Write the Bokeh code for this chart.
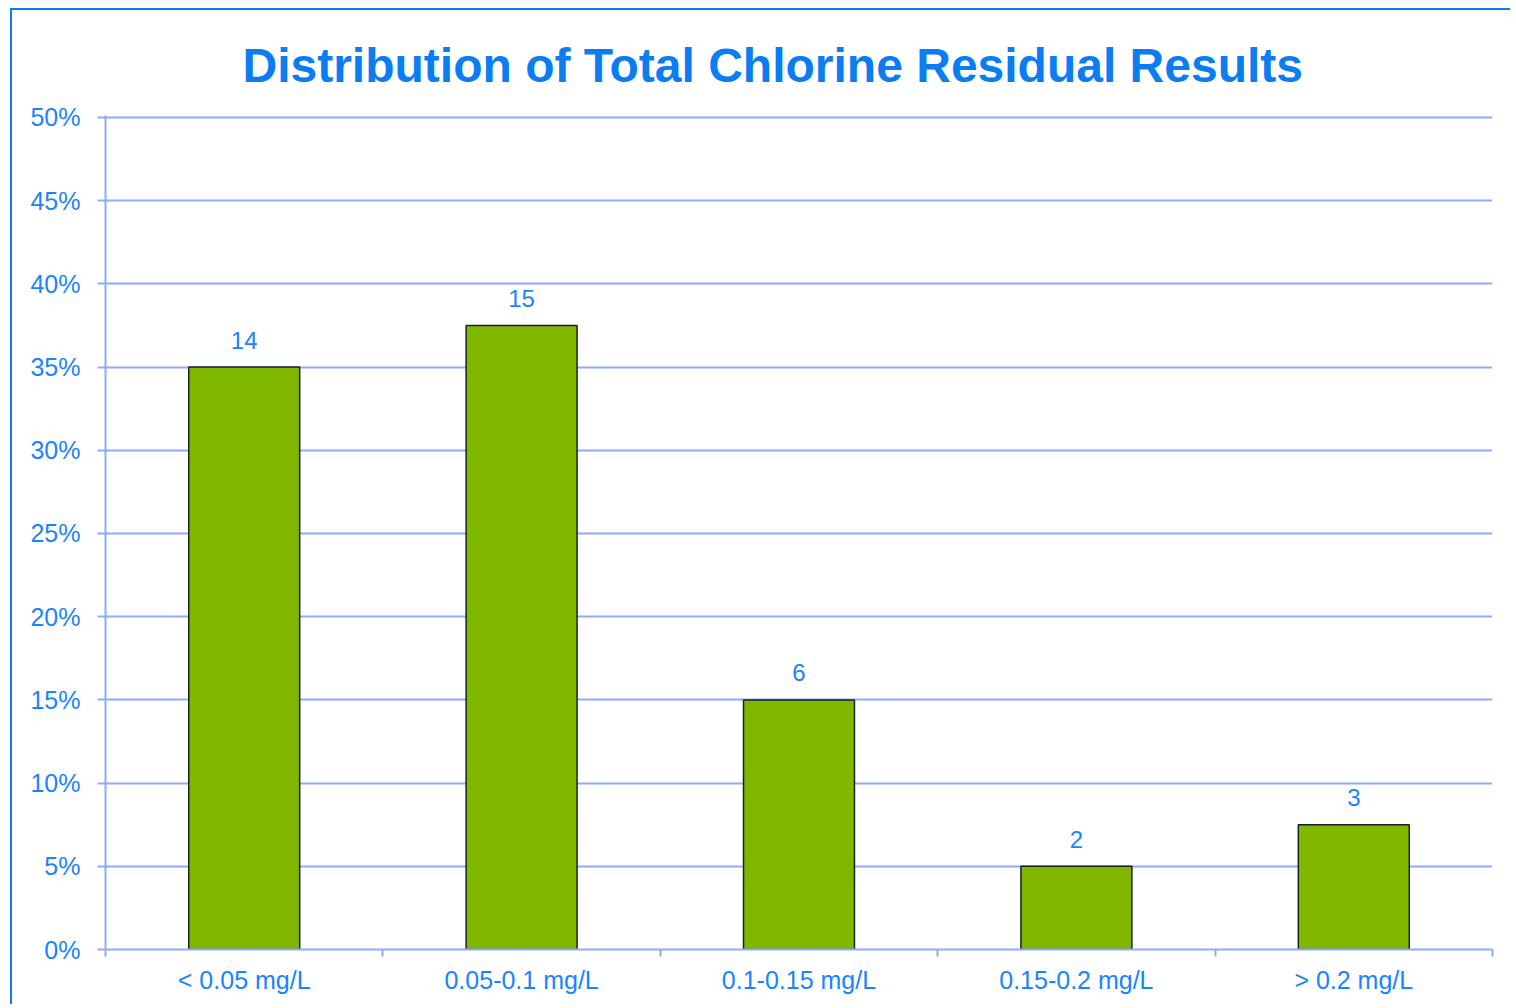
from bokeh.plotting import figure
from bokeh.models import FixedTicker, NumeralTickFormatter, Range1d, ColumnDataSource
from bokeh.core.properties import value
from bokeh.embed import file_html
from bokeh.resources import INLINE

title_text = "Distribution of Total Chlorine Residual Results"
categories = ["< 0.05 mg/L", "0.05-0.1 mg/L", "0.1-0.15 mg/L", "0.15-0.2 mg/L", "> 0.2 mg/L"]
counts = [14, 15, 6, 2, 3]
percents = [0.35, 0.375, 0.15, 0.05, 0.075]
y_ticks = [0.0, 0.05, 0.10, 0.15, 0.20, 0.25, 0.30, 0.35, 0.40, 0.45, 0.50]

TEXT = "#1A84FF"
TITLE = "#0A7DF2"
GRID = "#8FAAFF"
FONT = "Liberation Sans"

xs = [i + 0.5 for i in range(len(categories))]
src = ColumnDataSource(dict(x=xs, top=percents, lab=[str(c) for c in counts]))

p = figure(width=1500, height=996, output_backend="svg", toolbar_location=None,
           x_range=Range1d(0, len(categories)), y_range=Range1d(0, 0.5012),
           min_border_left=93, min_border_top=105, min_border_right=20, min_border_bottom=57,
           styles={"border-left": "2px solid #0A7DF2", "border-top": "2px solid #0A7DF2",
                   "margin-left": "10px", "margin-top": "8px"})

p.title.text = title_text
p.title.text_font = FONT
p.title.text_font_size = "48px"
p.title.text_font_style = "bold"
p.title.text_color = TITLE
p.title.align = "left"
p.title.offset = 137
p.title.standoff = 48

p.vbar(x="x", top="top", width=0.4, bottom=0, source=src,
       fill_color="#80B800", line_color="#1A1F2A", line_width=1.5)

p.text(x="x", y="top", text="lab", source=src, text_align="center",
       text_baseline="alphabetic", y_offset=-27, text_color=TEXT,
       text_font=value(FONT), text_font_size="24px")

p.outline_line_color = None
p.xgrid.grid_line_color = None
p.ygrid.ticker = FixedTicker(ticks=y_ticks)
p.ygrid.grid_line_color = GRID
p.ygrid.grid_line_width = 2

ya = p.yaxis[0]
ya.ticker = FixedTicker(ticks=y_ticks, minor_ticks=[])
ya.formatter = NumeralTickFormatter(format="0%")
ya.axis_line_color = GRID
ya.axis_line_width = 2
ya.major_tick_line_color = GRID
ya.major_tick_line_width = 2
ya.major_tick_in = 0
ya.major_tick_out = 8
ya.minor_tick_line_color = None
ya.major_label_standoff = 17
ya.major_label_text_color = TEXT
ya.major_label_text_font = FONT
ya.major_label_text_font_size = "25px"

xa = p.xaxis[0]
xa.ticker = FixedTicker(ticks=xs, minor_ticks=[float(i) for i in range(len(categories) + 1)])
xa.major_label_overrides = {x: c for x, c in zip(xs, categories)}
xa.axis_line_color = GRID
xa.axis_line_width = 2
xa.major_tick_line_color = None
xa.major_tick_in = 0
xa.major_tick_out = 0
xa.minor_tick_line_color = GRID
xa.minor_tick_line_width = 2
xa.minor_tick_in = 0
xa.minor_tick_out = 7
xa.major_label_standoff = 9
xa.major_label_text_color = TEXT
xa.major_label_text_font = FONT
xa.major_label_text_font_size = "25px"

open("out.html", "w").write(file_html(p, INLINE))
